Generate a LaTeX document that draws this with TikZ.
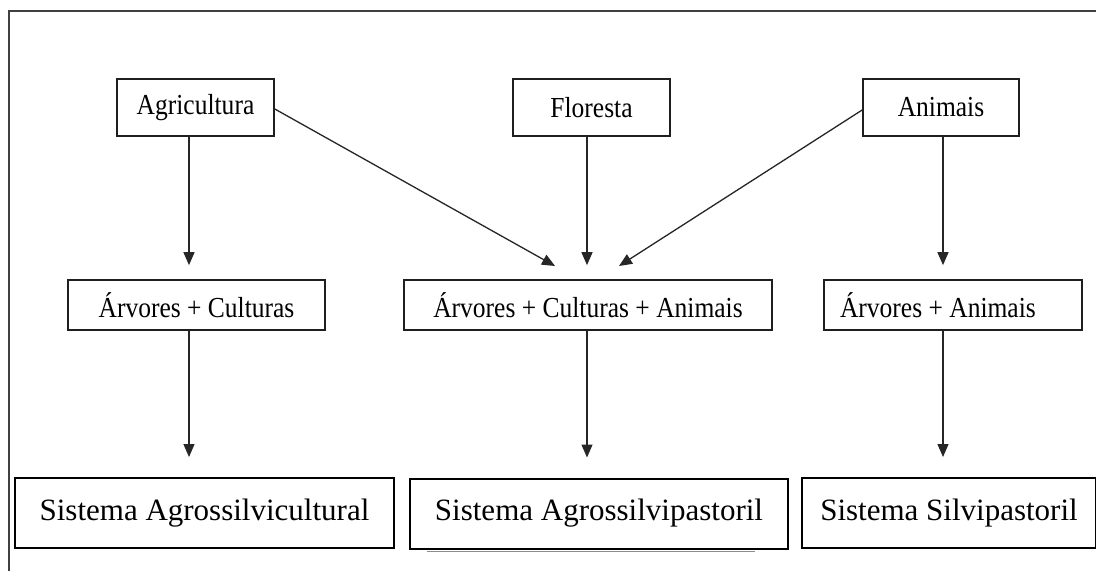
\documentclass[tikz,border=0pt]{standalone}
\usepackage{fontspec}
\setmainfont{Liberation Serif}
\usetikzlibrary{arrows.meta}
\newcommand{\cond}[1]{\scalebox{0.88}[1]{\fontsize{29}{33}\selectfont #1}}
\begin{document}
\begin{tikzpicture}[x=1pt,y=-1pt,
  topbox/.style={draw=black!88,line width=1.7pt,minimum height=57pt,inner sep=0pt},
  midbox/.style={draw=black!88,line width=1.7pt,minimum height=50pt,inner sep=0pt},
  botbox/.style={draw=black,line width=2pt,minimum height=70pt,inner sep=0pt,font=\fontsize{31}{36}\selectfont},
  arr/.style={line width=1.3pt,draw=black!85,-{Triangle[length=13pt,width=11pt]}},
  frame/.style={line width=1.5pt,draw=black!75}]
\useasboundingbox (0,0) rectangle (1096,571);
\fill[white] (0,0) rectangle (1096,571);
\draw[frame] (9,571) -- (9,11) -- (1096,11);

% top row
\node[topbox,minimum width=157pt] (agri) at (195.5,107.5) {\cond{Agricultura}};
\node[topbox,minimum width=157pt] (flor) at (591.5,107.5) {\cond{Floresta}};
\node[topbox,minimum width=156pt] (anim) at (941,107.5) {\cond{Animais}};

% middle row
\node[midbox,minimum width=257pt] (ac) at (196.5,305) {\cond{Árvores + Culturas}};
\node[midbox,minimum width=368pt] (aca) at (588,305) {\cond{Árvores + Culturas + Animais}};
\node[midbox,minimum width=258pt,inner xsep=16pt] (aa) at (953,305) {\makebox[226pt][l]{\cond{Árvores + Animais}}};

% bottom row
\node[botbox,minimum width=379pt] (sagc) at (204.5,513) {Sistema Agrossilvicultural};
\node[botbox,minimum width=378pt] (sagp) at (599,513.5) {Sistema Agrossilvipastoril};
\node[botbox,minimum width=294pt] (ssp) at (949,513) {Sistema Silvipastoril};
\draw[line width=1pt,draw=black!45] (427,551) -- (755,551);

% tip coordinates of diagonal arrows
\coordinate (tipl) at (555,266);
\coordinate (tipr) at (619,266);

% arrows top -> middle
\draw[arr] ([xshift=-6.5pt]agri.south) -- ([xshift=-7.5pt,yshift=14pt]ac.north);
\draw[arr] ([xshift=-4.5pt]flor.south) -- ([xshift=-1pt,yshift=14pt]aca.north);
\draw[arr] ([xshift=2pt]anim.south) -- ([xshift=-10pt,yshift=14pt]aa.north);
\draw[arr] ([yshift=-1.5pt]agri.east) -- (tipl);
\draw[arr] ([yshift=-2.5pt]anim.west) -- (tipr);

% arrows middle -> bottom
\draw[arr] ([xshift=-7.5pt]ac.south) -- ([xshift=-15.5pt,yshift=20pt]sagc.north);
\draw[arr] ([xshift=-1pt]aca.south) -- ([xshift=-12pt,yshift=20pt]sagp.north);
\draw[arr] ([xshift=-10pt]aa.south) -- ([xshift=-6pt,yshift=20pt]ssp.north);
\end{tikzpicture}
\end{document}
